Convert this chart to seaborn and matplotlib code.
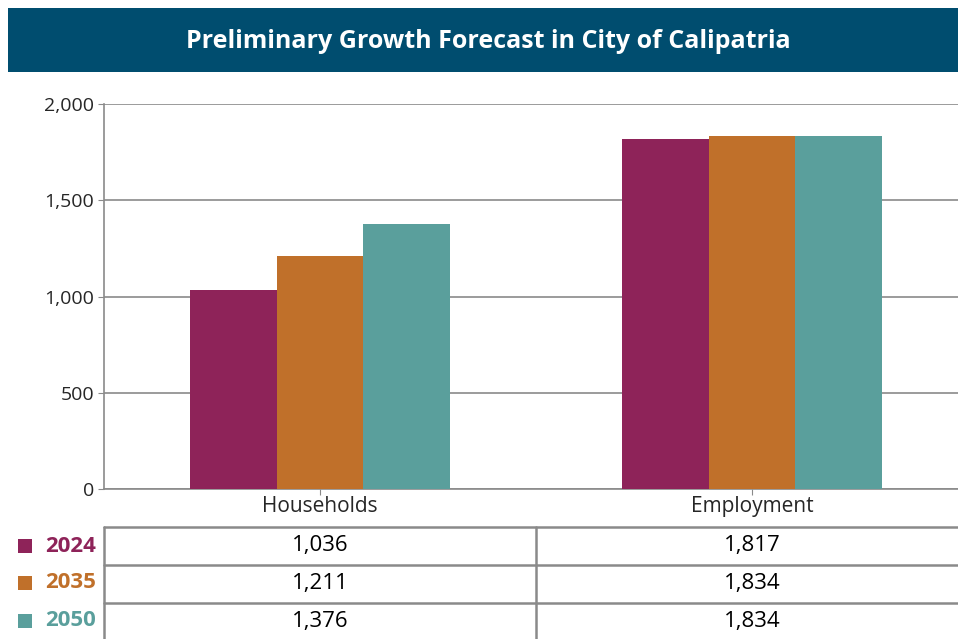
import matplotlib.pyplot as plt
from matplotlib.patches import Rectangle
from matplotlib.lines import Line2D
import seaborn as sns
import pandas as pd

categories = ['Households', 'Employment']
years = ['2024', '2035', '2050']
values_2024 = [1036, 1817]
values_2035 = [1211, 1834]
values_2050 = [1376, 1834]
y_ticks = [0, 500, 1000, 1500, 2000]
title = 'Preliminary Growth Forecast in City of Calipatria'

colors = ['#8e2359', '#c0702a', '#5a9f9c']
banner = '#004d6f'
line_gray = '#8a8a8a'

sns.set_style('white')
plt.rcParams['font.family'] = ['Open Sans', 'DejaVu Sans']

rows = []
for year, vals in zip(years, [values_2024, values_2035, values_2050]):
	for cat, v in zip(categories, vals):
		rows.append({'category': cat, 'year': year, 'value': v})
df = pd.DataFrame(rows)

W, H = 958, 639
fig = plt.figure(figsize=(W / 100, H / 100), dpi=100)

def fx(px):
	return px / W

def fy(py):
	return 1 - py / H

# title banner
fig.patches.append(Rectangle((fx(8), fy(72)), fx(W - 8), 64 / H, transform=fig.transFigure,
	facecolor=banner, edgecolor='none', zorder=0))
fig.text(fx(488), fy(41), title, color='white', fontsize=18, fontweight='bold',
	ha='center', va='center')

ax = fig.add_axes([fx(104), fy(489), fx(968 - 104), (489 - 104) / H])
sns.barplot(data=df, x='category', y='value', hue='year', palette=colors,
	width=0.6, saturation=1, ax=ax, legend=False, zorder=3)
ax.set_xlim(-0.5, 1.5)
ax.set_ylim(0, 2000)
ax.set_yticks(y_ticks)
ax.set_yticklabels([f'{t:,}' for t in y_ticks])
ax.set_xlabel('')
ax.set_ylabel('')
ax.yaxis.grid(True, color=line_gray, linewidth=1.2, zorder=0)
ax.set_axisbelow(True)
for s in ['top', 'right']:
	ax.spines[s].set_visible(False)
for s in ['left', 'bottom']:
	ax.spines[s].set_color(line_gray)
	ax.spines[s].set_linewidth(1.2)
ax.tick_params(axis='y', left=True, length=4, color=line_gray, labelsize=14, pad=3)
ax.tick_params(axis='x', bottom=True, length=4, color=line_gray, labelsize=15, pad=1)
for p in ax.patches:
	p.set_edgecolor('none')

# data table below the chart
lw = 1.8
def hline(y, x0, x1):
	fig.add_artist(Line2D([fx(x0), fx(x1)], [fy(y), fy(y)], color=line_gray, lw=lw))

def vline(x, y0, y1):
	fig.add_artist(Line2D([fx(x), fx(x)], [fy(y0), fy(y1)], color=line_gray, lw=lw))

row_tops = [527, 565, 603]
row_centers = [546, 583, 621]
col_centers = [320, 752]
for y in row_tops:
	hline(y, 104, W)
vline(104, 527, H)
vline(536, 527, H)

for i, (year, vals) in enumerate(zip(years, [values_2024, values_2035, values_2050])):
	yc = row_centers[i]
	fig.patches.append(Rectangle((fx(18), fy(yc + 7)), fx(14), 14 / H, transform=fig.transFigure,
		facecolor=colors[i], edgecolor='none'))
	fig.text(fx(45), fy(yc), year, color=colors[i], fontsize=16, fontweight='bold',
		ha='left', va='center')
	for cx, v in zip(col_centers, vals):
		fig.text(fx(cx), fy(yc), f'{v:,}', color='black', fontsize=16,
			ha='center', va='center')

plt.savefig('out.png', dpi=100)
